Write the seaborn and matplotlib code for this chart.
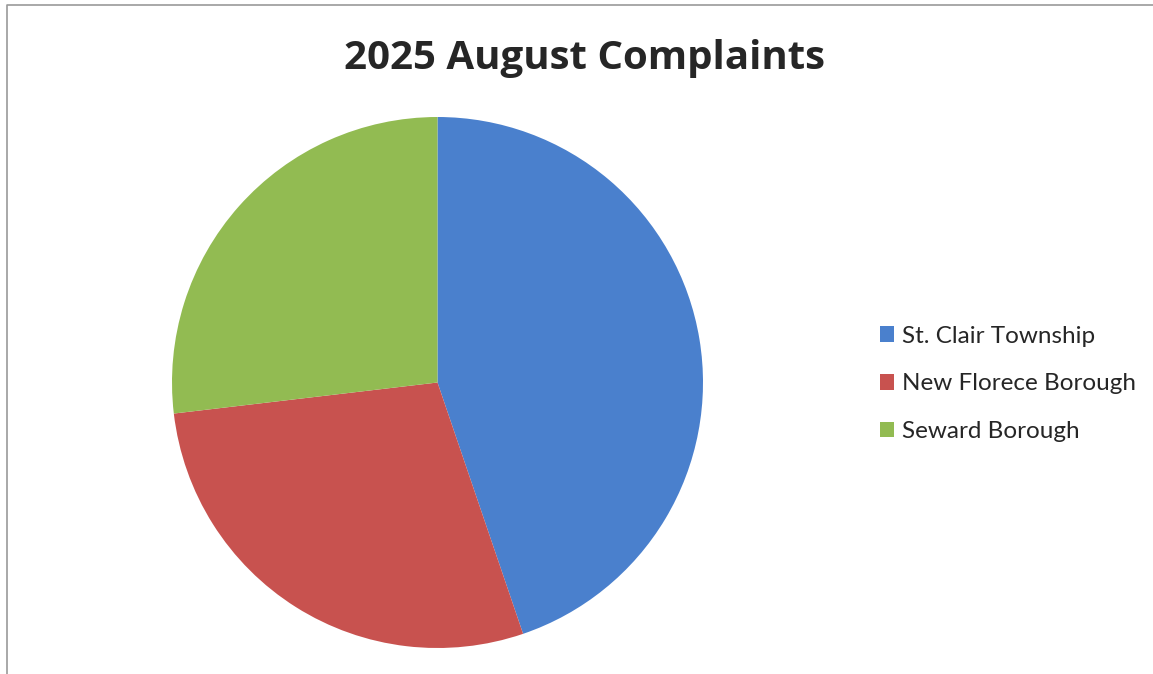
import matplotlib
matplotlib.use("Agg")
import matplotlib.pyplot as plt
import seaborn as sns
from matplotlib.lines import Line2D

# Complaint counts per municipality
areas = ["St. Clair Township", "New Florece Borough", "Seward Borough"]
complaints = [30, 19, 18]
colors = ["#4A80CD", "#C8524F", "#92BB52"]

sns.set_theme(style="white")
plt.rcParams["font.family"] = ["Lato", "DejaVu Sans"]

W, H = 1153, 674
fig = plt.figure(figsize=(W / 100, H / 100), dpi=100)

# pie axes: center ~ (437, 383) px, radius ~265 px
r = 265.5
ax = fig.add_axes([(437.5 - r) / W, (H - 382.5 - r) / H, 2 * r / W, 2 * r / H])
wedges, _ = ax.pie(complaints, colors=colors, startangle=90, counterclock=False,
                   radius=1, wedgeprops=dict(linewidth=0))
ax.set_xlim(-1, 1)
ax.set_ylim(-1, 1)
ax.set_axis_off()

fig.text(585 / W, 1 - 58 / H, "2025 August Complaints", ha="center", va="center",
         fontsize=29, fontweight="bold", color="#262626",
         family=["Open Sans", "DejaVu Sans"])

fig.legend(wedges, areas, loc="center left", bbox_to_anchor=(858 / W, 1 - 384 / H),
           frameon=False, fontsize=17.5, handlelength=0.6, handleheight=0.6,
           handletextpad=0.3, labelspacing=1.1, labelcolor="#262626")

# scanned page border (top and left only)
fig.add_artist(Line2D([7 / W, 7 / W, 1], [0, 1 - 5 / H, 1 - 5 / H],
                      transform=fig.transFigure, color="#9a9a9a", linewidth=1.2))

fig.savefig("out.png", dpi=100)
